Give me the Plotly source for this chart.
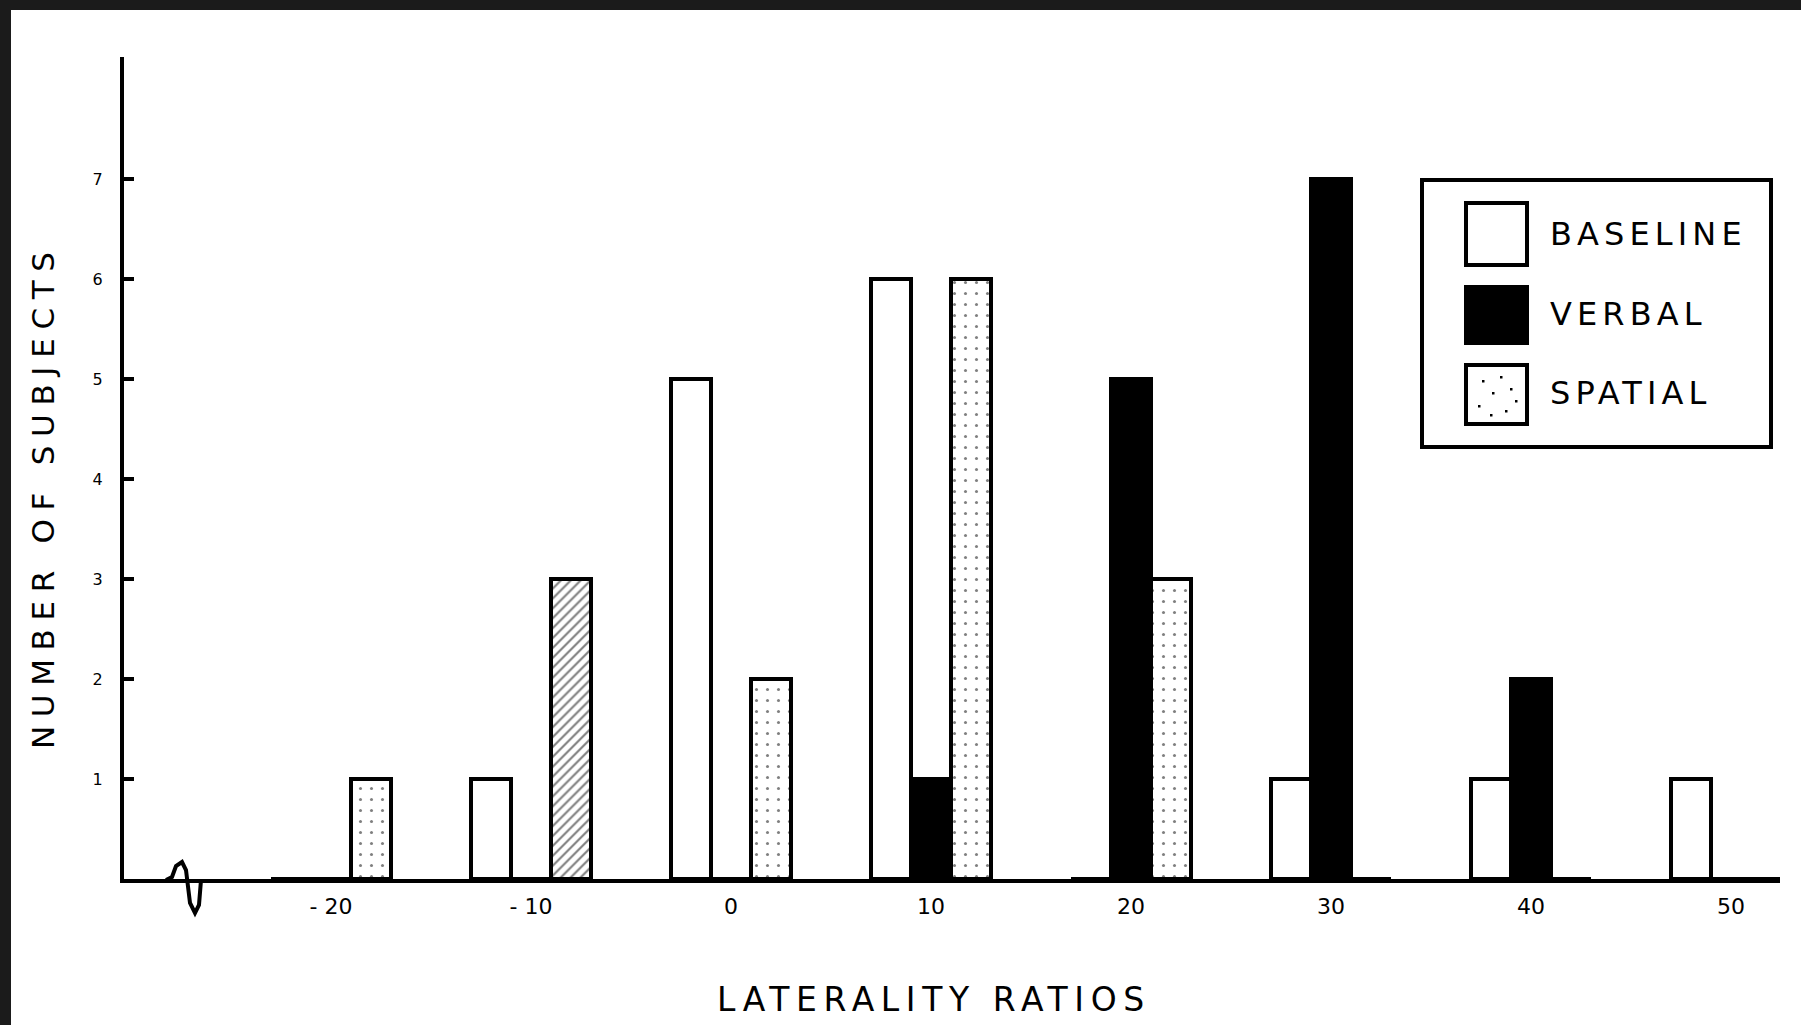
import json
import plotly.graph_objects as go

# Histogram of laterality ratios, one bar per condition in each 10-point bin
ratios = [-20, -10, 0, 10, 20, 30, 40, 50]
ratio_labels = ["- 20", "- 10", "0", "10", "20", "30", "40", "50"]
baseline = [0, 1, 5, 6, 0, 1, 1, 1]
verbal = [0, 0, 0, 1, 5, 7, 2, 0]
spatial = [1, 3, 2, 6, 3, 0, 0, 0]
series_names = ["BASELINE", "VERBAL", "SPATIAL"]
count_ticks = [1, 2, 3, 4, 5, 6, 7]

# Canvas and plot-area geometry (pixels)
W, H = 1801, 1025
M_L, M_R, M_T, M_B = 124, 21, 57, 146
PLOT_W = W - M_L - M_R
PLOT_H = H - M_T - M_B


def px_x(p):
    """Horizontal pixel -> paper fraction."""
    return (p - M_L) / PLOT_W


def px_y(p):
    """Vertical pixel (from top) -> paper fraction."""
    return (H - M_B - p) / PLOT_H


INK = "black"
FONT = "DejaVu Sans, Liberation Sans, Arial, sans-serif"
outline = dict(color=INK, width=4)

fig = go.Figure()
fig.add_bar(x=ratios, y=baseline, name=series_names[0],
            marker=dict(color="white", line=outline))
fig.add_bar(x=ratios, y=verbal, name=series_names[1],
            marker=dict(color=INK, line=outline))
fig.add_bar(
    x=ratios, y=spatial, name=series_names[2],
    marker=dict(
        color="white", line=outline,
        pattern=dict(
            shape=[".", "/", ".", ".", ".", ".", ".", "."],
            size=[11, 7, 11, 11, 11, 11, 11, 11],
            solidity=[0.06, 0.3, 0.06, 0.06, 0.06, 0.06, 0.06, 0.06],
            fgcolor=INK, bgcolor="white",
        ),
    ),
)

shapes = []
annotations = []
spacing = {}

# Dark scan border along the top and left edges
shapes.append(dict(type="rect", xref="paper", yref="paper",
                   x0=px_x(0), x1=px_x(W), y0=px_y(10), y1=px_y(0),
                   fillcolor="#1b1b1b", line=dict(width=0), layer="above"))
shapes.append(dict(type="rect", xref="paper", yref="paper",
                   x0=px_x(0), x1=px_x(11), y0=px_y(H), y1=px_y(0),
                   fillcolor="#1b1b1b", line=dict(width=0), layer="above"))

# Axis-break squiggle on the horizontal axis
brk = [(166, 880), (172, 877), (176, 866), (182, 862), (186, 870),
       (190, 903), (195, 913), (199, 905), (201, 880)]
path = "M " + " L ".join(f"{px_x(a):.5f},{px_y(b):.5f}" for a, b in brk)
shapes.append(dict(type="path", xref="paper", yref="paper", path=path,
                   line=dict(color=INK, width=4), layer="above"))

# Legend box with large swatches
shapes.append(dict(type="rect", xref="paper", yref="paper",
                   x0=px_x(1422), x1=px_x(1771), y0=px_y(447), y1=px_y(180),
                   fillcolor="white", line=dict(color=INK, width=4),
                   layer="above"))
swatch_rows = [(203, 265, 234), (287, 343, 314), (365, 424, 393)]
swatch_fill = ["white", INK, "white"]
for name, (top, bot, mid), fill in zip(series_names, swatch_rows, swatch_fill):
    shapes.append(dict(type="rect", xref="paper", yref="paper",
                       x0=px_x(1466), x1=px_x(1527),
                       y0=px_y(bot), y1=px_y(top),
                       fillcolor=fill, line=dict(color=INK, width=4),
                       layer="above"))
    annotations.append(dict(text=name, xref="paper", yref="paper",
                            x=px_x(1548), y=px_y(mid),
                            xanchor="left", yanchor="middle", align="left",
                            showarrow=False,
                            font=dict(family=FONT, size=32, color=INK)))
    spacing[name] = "0.16em"

# Stipple dots inside the spatial swatch
dots = [(1482, 380), (1500, 376), (1492, 392), (1510, 388), (1478, 405),
        (1505, 410), (1490, 414), (1515, 400)]
for dx, dy in dots:
    shapes.append(dict(type="rect", xref="paper", yref="paper",
                       x0=px_x(dx), x1=px_x(dx + 2.5),
                       y0=px_y(dy + 2.5), y1=px_y(dy),
                       fillcolor=INK, line=dict(width=0), layer="above"))

# Axis titles
x_title = "LATERALITY RATIOS"
y_title = "NUMBER OF SUBJECTS"
annotations.append(dict(text=x_title, xref="paper", yref="paper",
                        x=px_x(934), y=px_y(1000),
                        xanchor="center", yanchor="middle", showarrow=False,
                        font=dict(family=FONT, size=33, color=INK)))
spacing[x_title] = "0.2em"
annotations.append(dict(text=y_title, xref="paper", yref="paper",
                        x=px_x(43), y=px_y(496), textangle=-90,
                        xanchor="center", yanchor="middle", showarrow=False,
                        font=dict(family=FONT, size=31, color=INK)))
spacing[y_title] = "0.28em"

fig.update_layout(
    width=W, height=H,
    margin=dict(l=M_L, r=M_R, t=M_T, b=M_B, pad=0),
    paper_bgcolor="white", plot_bgcolor="white",
    barmode="group", bargap=0.4, bargroupgap=0,
    showlegend=False,
    shapes=shapes, annotations=annotations,
    font=dict(family=FONT, color=INK),
)
fig.update_xaxes(
    range=[-30.35, 52.45], tickvals=ratios, ticktext=ratio_labels,
    showgrid=False, zeroline=False, showline=True, linecolor=INK,
    linewidth=4, ticks="", ticklabelstandoff=5,
    tickfont=dict(family=FONT, size=22, color=INK),
)
fig.update_yaxes(
    range=[0, PLOT_H / 100.0], tickvals=count_ticks,
    showgrid=False, zeroline=False, showline=True, linecolor=INK,
    linewidth=4, ticks="inside", ticklen=10, tickwidth=4, tickcolor=INK,
    ticklabelstandoff=14,
    tickfont=dict(family=FONT, size=16, color=INK),
)

# Letter-spaced lettering for the titles and legend labels
post = """
var gd = document.getElementById('{plot_id}');
var sp = %s;
function spaceOut() {
  gd.querySelectorAll('.annotation-text').forEach(function (t) {
    var s = sp[t.textContent];
    if (s) { t.style.letterSpacing = s; }
  });
}
spaceOut();
setTimeout(spaceOut, 0);
setTimeout(spaceOut, 200);
if (gd.on) { gd.on('plotly_afterplot', spaceOut); }
""" % json.dumps(spacing)

fig.write_html("out.html", post_script=post)
